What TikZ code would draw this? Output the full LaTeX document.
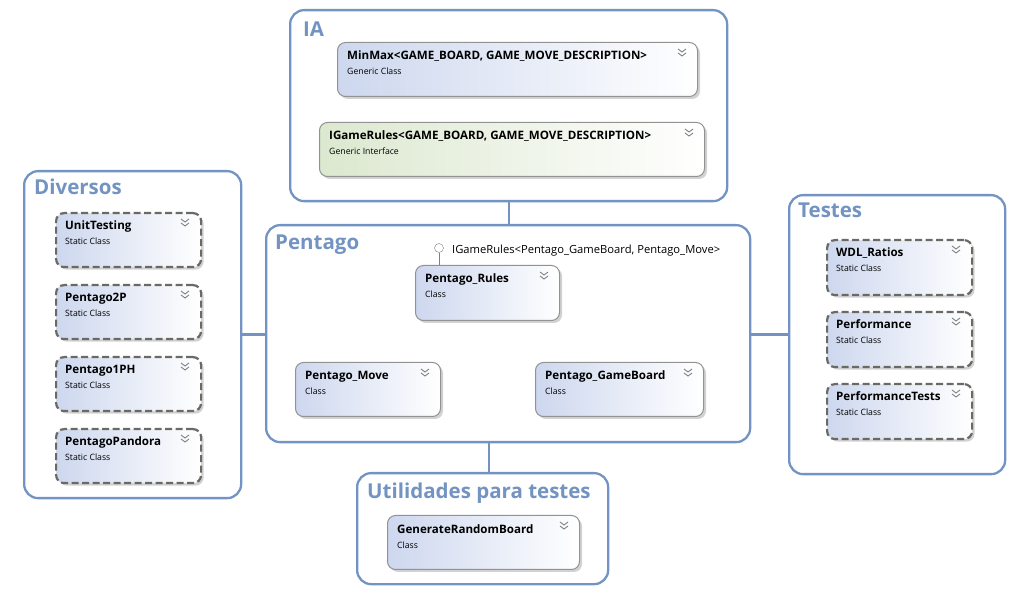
\documentclass[tikz,border=0pt]{standalone}
\usepackage{fontspec}
\setmainfont{Open Sans}
\usetikzlibrary{shadows}
\definecolor{grpblue}{HTML}{7394C2}
\definecolor{clsborder}{HTML}{929292}
\definecolor{statborder}{HTML}{6A6A64}
\definecolor{clsblue}{HTML}{CDD7EE}
\definecolor{ifgreen}{HTML}{DCE8CF}
\tikzset{
    group/.style={draw=grpblue, line width=2.3pt, rounded corners=14pt, fill=white, anchor=north west, inner sep=0pt},
    grouptitle/.style={anchor=base west, text=grpblue, font=\bfseries\fontsize{20.5}{20.5}\selectfont, inner sep=0pt},
    conn/.style={draw=grpblue, line width=2.3pt},
    classbox/.style={draw=clsborder, line width=1pt, rounded corners=8pt, left color=clsblue, right color=white,
        drop shadow={shadow xshift=2.5pt, shadow yshift=-2.5pt, opacity=.35}, anchor=north west, inner sep=0pt},
    staticbox/.style={classbox, draw=statborder, line width=2.2pt, dash pattern=on 7pt off 3.5pt},
    ifacebox/.style={classbox, left color=ifgreen},
    clstitle/.style={anchor=base west, font=\bfseries\fontsize{11.6}{11.6}\selectfont, inner sep=0pt},
    clskind/.style={anchor=base west, font=\fontsize{8.7}{8.7}\selectfont, inner sep=0pt},
    chev/.style={draw=gray, line width=.9pt},
    lolli/.style={circle, draw=gray, fill=white, minimum size=9pt, inner sep=0pt},
}
% name, style, x, y, width, height, title, kind
\newcommand{\umlclass}[8]{%
    \node[#2, minimum width=#5pt, minimum height=#6pt] (#1) at (#3,#4) {};
    \node[clstitle] (#1-t) at (#3+10,#4+18) {#7};
    \node[clskind] (#1-k) at (#3+10,#4+33) {#8};
    \draw[chev] (#3+#5-19,#4+7) -- ++(4,3) -- ++(4,-3)
                (#3+#5-19,#4+11) -- ++(4,3) -- ++(4,-3);
}
\begin{document}
\begin{tikzpicture}[x=1pt,y=-1pt]
    \useasboundingbox (0,0) rectangle (1029,601);

    % groups
    \node[group, minimum width=437pt, minimum height=191pt] (ia) at (289,9) {};
    \node[group, minimum width=217pt, minimum height=327pt] (diversos) at (23,170) {};
    \node[group, minimum width=484pt, minimum height=217pt] (pentago) at (265,224) {};
    \node[group, minimum width=216pt, minimum height=279pt] (testes) at (788,194) {};
    \node[group, minimum width=251pt, minimum height=111pt] (util) at (356,472) {};

    \node[grouptitle] (ia-t) at (303,37) {IA};
    \node[grouptitle] (diversos-t) at (34,195) {Diversos};
    \node[grouptitle] (pentago-t) at (275,250) {Pentago};
    \node[grouptitle] (testes-t) at (798,218) {Testes};
    \node[grouptitle] (util-t) at (367,499) {Utilidades para testes};

    % links between groups
    \coordinate (utiltop) at (489,472);
    \draw[conn] (ia.south) -- (ia.south |- pentago.north);
    \draw[conn] (diversos.east) -- (diversos.east -| pentago.west);
    \draw[conn] (testes.west) -- (testes.west -| pentago.east);
    \draw[conn] (utiltop |- pentago.south) -- (utiltop);

    % IA
    \umlclass{minmax}{classbox}{337}{42}{360}{54}{MinMax<GAME\_BOARD, GAME\_MOVE\_DESCRIPTION>}{Generic Class}
    \umlclass{igamerules}{ifacebox}{319}{122}{385}{54}{IGameRules<GAME\_BOARD, GAME\_MOVE\_DESCRIPTION>}{Generic Interface}

    % Diversos
    \foreach \y/\n/\t in {212/unittesting/UnitTesting, 284/pentagotwo/Pentago2P,
                          356/pentagoone/Pentago1PH, 428/pandora/PentagoPandora}
    {
        \umlclass{\n}{staticbox}{55}{\y}{145}{54}{\t}{Static Class}
    }

    % Testes
    \foreach \y/\n/\t in {239/wdl/WDL\_Ratios, 311/perf/Performance, 383/perftests/PerformanceTests}
    {
        \umlclass{\n}{staticbox}{826}{\y}{145}{55}{\t}{Static Class}
    }

    % Pentago
    \umlclass{rules}{classbox}{415}{265}{144}{55}{Pentago\_Rules}{Class}
    \umlclass{move}{classbox}{295}{362}{145}{54}{Pentago\_Move}{Class}
    \umlclass{board}{classbox}{535}{362}{168}{54}{Pentago\_GameBoard}{Class}
    \node[lolli] (lollipop) at (439,248) {};
    \draw[draw=gray, line width=.8pt] (lollipop.south) -- (lollipop.south |- rules.north);
    \node[anchor=west, inner sep=0pt, font=\fontsize{11.2}{11.2}\selectfont] (lollipop-t) at (452,251) {IGameRules<Pentago\_GameBoard, Pentago\_Move>};

    % Utilidades para testes
    \umlclass{genboard}{classbox}{387}{515}{192}{54}{GenerateRandomBoard}{Class}
\end{tikzpicture}
\end{document}
